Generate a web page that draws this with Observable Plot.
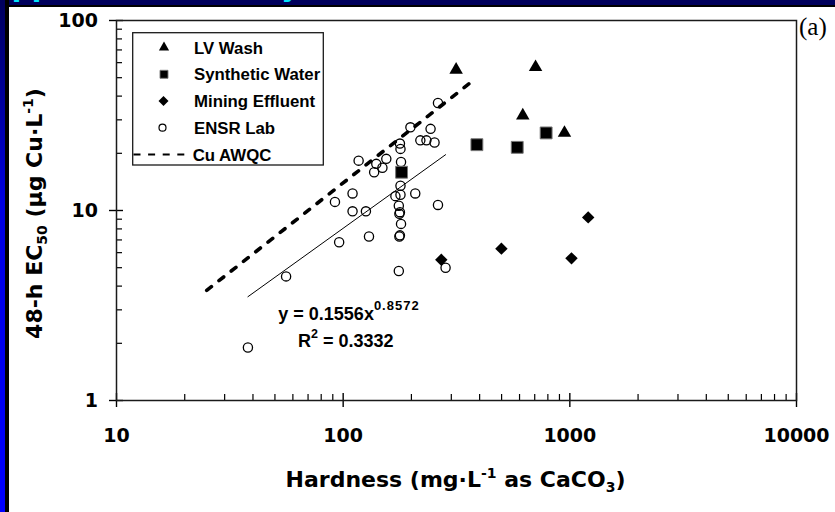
<!DOCTYPE html>
<html>
<head>
<meta charset="utf-8">
<script src="https://cdn.jsdelivr.net/npm/d3@7"></script>
<script src="https://cdn.jsdelivr.net/npm/@observablehq/plot@0.6"></script>
<style>
  html, body { margin: 0; padding: 0; background: #fff; }
  body { width: 835px; height: 512px; overflow: hidden; position: relative; }
  #chart { position: absolute; left: 0; top: 0; }
  .band-top {
    position: absolute; left: 0; top: 0; width: 835px; height: 5px;
    background: #00005c; border-bottom: 2.3px solid #000; overflow: hidden;
  }
  .band-top span {
    position: absolute; left: -10px; top: -29.7px; line-height: 28px;
    font: bold 28px "DejaVu Sans", sans-serif; color: #00e4ff; white-space: nowrap;
  }
  .band-left {
    position: absolute; left: 0; top: 0; width: 5px; height: 512px;
    background: linear-gradient(#00005c 0%, #0000e0 40%, #0000ff 100%);
    border-right: 4px solid #000;
  }
</style>
</head>
<body>
<div id="chart"></div>
<div class="band-top"><span>Approach Summary</span></div>
<div class="band-left"></div>
<script>
// Axis ticks (log decades and the minor ticks in between)
const xMajor = [10, 100, 1000, 10000];
const yMajor = [1, 10, 100];
const xMinor = [20, 30, 40, 50, 60, 70, 80, 90, 200, 300, 400, 500, 600, 700, 800, 900,
                2000, 3000, 4000, 5000, 6000, 7000, 8000, 9000];
const yMinor = [2, 3, 4, 5, 6, 7, 8, 9, 20, 30, 40, 50, 60, 70, 80, 90];

// [hardness mg/L as CaCO3, 48-h EC50 µg Cu/L]
const lvWash = [[315, 55.0], [706, 56.8], [620, 31.6], [947, 25.6]];
const syntheticWater = [[181, 15.9], [389, 22.2], [586, 21.5], [786, 25.6]];
const miningEffluent = [[271, 5.5], [499, 6.3], [1017, 5.6], [1205, 9.2]];
const ensrLab = [
  [262, 36.8], [198, 27.4], [243, 26.9], [219, 23.4], [233, 23.4], [253, 22.8],
  [178, 22.5], [179, 21.1], [117, 18.3], [155, 18.7], [140, 17.6], [180, 18.0],
  [149, 16.8], [137, 15.9], [179, 13.5], [208, 12.3], [110, 12.3], [170, 11.9],
  [179, 12.1], [92, 11.1], [176, 10.6], [262, 10.7], [110, 9.9], [126, 9.9],
  [178, 9.8], [177, 9.6], [180, 8.5], [178, 7.4], [177, 7.3], [130, 7.3],
  [96, 6.8], [56, 4.5], [176, 4.8], [283, 5.0], [38, 1.9]
];
// Cu water-quality criterion line, end points
const cuAwqc = [[25, 3.8], [376, 48.5]];

// Power-law fit to the ENSR lab data
const fitCoef = 0.1556;
const fitExp = 0.8572;
const fitR2 = 0.3332;
const fitRange = [38, 283];
const fitLine = fitRange.map(h => [h, fitCoef * Math.pow(h, fitExp)]);

const seriesNames = ["LV Wash", "Synthetic Water", "Mining Effluent", "ENSR Lab", "Cu AWQC"];

const tickFont = {fontSize: 19, fontWeight: "bold", fontFamily: "DejaVu Sans", fill: "#000"};

const plot = Plot.plot({
  width: 835,
  height: 512,
  marginLeft: 116,
  marginRight: 39,
  marginTop: 20,
  marginBottom: 112,
  x: {type: "log", domain: [10, 10000], label: null},
  y: {type: "log", domain: [1, 100], label: null},
  style: {background: "transparent", fontFamily: "DejaVu Sans", overflow: "visible"},
  marks: [
    // minor ticks point inward
    Plot.axisX({ticks: xMinor, tickSize: 6, dy: -6, fill: null, stroke: "#000", strokeWidth: 1.2, label: null}),
    Plot.axisY({ticks: yMinor, tickSize: 6, dx: 6, fill: null, stroke: "#000", strokeWidth: 1.2, label: null}),
    // major ticks cross the axis
    Plot.axisX({ticks: xMajor, tickSize: 14, dy: -7, fill: null, stroke: "#000", strokeWidth: 1.4, label: null}),
    Plot.axisY({ticks: yMajor, tickSize: 14, dx: 7, fill: null, stroke: "#000", strokeWidth: 1.4, label: null}),
    Plot.axisX({ticks: xMajor, tickSize: 0, tickPadding: 28, tickFormat: d => String(d), label: null, ...tickFont}),
    Plot.axisY({ticks: yMajor, tickSize: 0, tickPadding: 18.5, tickFormat: d => String(d), label: null, ...tickFont}),
    Plot.frame({stroke: "#1a1a1a", strokeWidth: 1.5}),
    Plot.line(cuAwqc, {x: d => d[0], y: d => d[1], stroke: "#000", strokeWidth: 3.6, strokeDasharray: "6 9.6"}),
    Plot.line(fitLine, {x: d => d[0], y: d => d[1], stroke: "#000", strokeWidth: 1}),
    Plot.dot(ensrLab, {x: d => d[0], y: d => d[1], r: 4.6, stroke: "#000", strokeWidth: 1.3, fill: "none"}),
    Plot.dot(lvWash, {x: d => d[0], y: d => d[1], symbol: "triangle", r: 5, fill: "#000", stroke: null}),
    Plot.dot(syntheticWater, {x: d => d[0], y: d => d[1], symbol: "square", r: 6.7, fill: "#000", stroke: "#777", strokeWidth: 1}),
    Plot.dot(miningEffluent, {x: d => d[0], y: d => d[1], symbol: "diamond2", r: 5.6, fill: "#000", stroke: null})
  ]
});
document.getElementById("chart").appendChild(plot);

const svg = d3.select(plot);

// Text with sub/superscript pieces: parts = [text, shiftPx, fontSize?, letterSpacing?]
function richText(parent, parts, attrs) {
  const t = parent.append("text");
  Object.entries(attrs).forEach(([k, v]) => t.attr(k, v));
  let shift = 0;
  for (const [str, s = 0, size, spacing] of parts) {
    const span = t.append("tspan").text(str).attr("dy", s - shift);
    if (size) span.attr("font-size", size);
    if (spacing) span.attr("letter-spacing", spacing);
    shift = s;
  }
  return t;
}

const titleAttrs = {"font-family": "DejaVu Sans", "font-weight": "bold", "font-size": 22, "fill": "#000", "text-anchor": "middle"};

// x-axis title
richText(svg, [["Hardness (mg·L"], ["-1", -9, 14], [" as CaCO", 0], ["3", 5, 14], [")", 0]],
  {...titleAttrs, x: 455.5, y: 487});

// y-axis title
richText(svg, [["48-h EC"], ["50", 5, 14], [" (µg Cu·L", 0], ["-1", -9, 14], [")", 0]],
  {...titleAttrs, transform: "translate(42,213.5) rotate(-90)"});

// panel tag
svg.append("text").text("(a)")
  .attr("x", 799).attr("y", 35).attr("font-family", "Liberation Serif")
  .attr("text-anchor", "start")
  .attr("font-size", 25).attr("fill", "#000");

// fit equation
const eqAttrs = {"font-family": "Liberation Sans", "font-weight": "bold", "font-size": 18, "fill": "#000", "text-anchor": "start"};
richText(svg, [[`y = ${fitCoef}x`], [String(fitExp), -9.5, 13, 1]], {...eqAttrs, x: 278.3, y: 319.5});
richText(svg, [["R"], ["2", -9, 12.5], [` = ${fitR2}`, 0]], {...eqAttrs, x: 298, y: 347});

// legend
const lg = svg.append("g");
lg.append("rect").attr("x", 132.7).attr("y", 32.7).attr("width", 190.6).attr("height", 132.3)
  .attr("fill", "#fff").attr("stroke", "#1a1a1a").attr("stroke-width", 1.3);
const rowY = [47.5, 74.3, 101, 127.7, 154.5];
const sym = (type, r) => d3.symbol(type, Math.PI * r * r)();
lg.append("path").attr("d", sym(d3.symbolTriangle, 3.8)).attr("transform", `translate(164,${rowY[0]})`).attr("fill", "#000");
lg.append("path").attr("d", sym(d3.symbolSquare, 4.5)).attr("transform", `translate(164,${rowY[1]})`)
  .attr("fill", "#000").attr("stroke", "#777").attr("stroke-width", 0.9);
lg.append("path").attr("d", sym(d3.symbolSquare, 4)).attr("transform", `translate(163.5,${rowY[2]}) rotate(45)`).attr("fill", "#000");
lg.append("circle").attr("cx", 162.5).attr("cy", rowY[3]).attr("r", 3.5)
  .attr("fill", "none").attr("stroke", "#000").attr("stroke-width", 1.2);
lg.append("line").attr("x1", 133.5).attr("x2", 186).attr("y1", rowY[4]).attr("y2", rowY[4])
  .attr("stroke", "#000").attr("stroke-width", 2.2).attr("stroke-dasharray", "7 7.6");
seriesNames.forEach((name, i) => {
  lg.append("text").text(name)
    .attr("x", i === 4 ? 192.7 : 194).attr("y", rowY[i] + 6)
    .attr("text-anchor", "start")
    .attr("font-family", "Liberation Sans").attr("font-weight", "bold")
    .attr("font-size", 16.8).attr("fill", "#000");
});
</script>
</body>
</html>
